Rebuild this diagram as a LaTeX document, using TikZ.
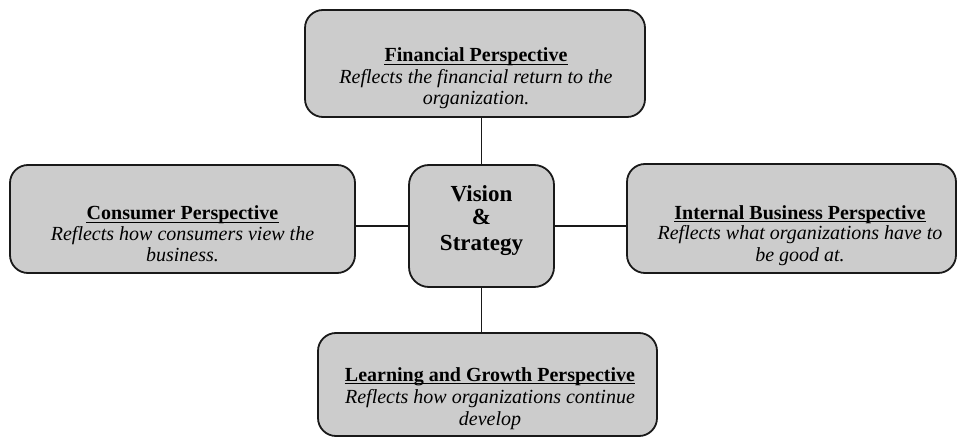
\documentclass[tikz,border=0pt]{standalone}
\usepackage{fontspec}
\setmainfont{Liberation Serif}
\definecolor{boxfill}{RGB}{204,204,204}
\definecolor{edge}{RGB}{25,25,25}
\tikzset{
 pbox/.style={draw=edge, line width=1.8pt, fill=boxfill, rounded corners=18pt, inner sep=0pt, outer sep=0pt},
 cbox/.style={pbox, rounded corners=20pt},
 ttl/.style={font=\fontsize{20}{22}\selectfont\bfseries, anchor=base, inner sep=0pt},
 txt/.style={font=\fontsize{20}{22}\selectfont\itshape, anchor=base, inner sep=0pt},
 ctxt/.style={font=\fontsize{23}{26}\selectfont\bfseries, anchor=base, inner sep=0pt},
 link/.style={draw=edge, line width=1.4pt},
 uline/.style={draw=black, line width=1.1pt},
}
\begin{document}
\begin{tikzpicture}[x=1pt,y=-1pt]
\useasboundingbox (0,0) rectangle (957,438);
% boxes
\node[pbox, minimum width=340pt, minimum height=107pt] (fin) at (475,63.5) {};
\node[pbox, minimum width=345pt, minimum height=108pt] (con) at (182.5,219) {};
\node[pbox, minimum width=329pt, minimum height=109pt] (int) at (791.5,218.5) {};
\node[pbox, minimum width=339pt, minimum height=103pt] (lrn) at (487.5,384.5) {};
\node[cbox, minimum width=145pt, minimum height=122pt] (ctr) at (481.5,226) {};
% connectors
\draw[link] (ctr.north) -- (ctr.north |- fin.south);
\draw[link] (ctr.west) -- (ctr.west -| con.east);
\draw[link] (ctr.east) -- (ctr.east -| int.west);
\draw[link] (ctr.south) -- (ctr.south |- lrn.north);
% financial
\node[ttl] (fa) at (476,62) {Financial Perspective};
\node[txt] (fb) at (476,84) {Reflects the financial return to the};
\node[txt] (fc) at (476,105) {organization.};
% consumer
\node[ttl] (ca) at (182.5,220) {Consumer Perspective};
\node[txt] (cb) at (182.5,240.5) {Reflects how consumers view the};
\node[txt] (cc) at (182.5,261) {business.};
% internal
\node[ttl] (ia) at (800,219) {Internal Business Perspective};
\node[txt] (ib) at (800,240) {Reflects what organizations have to};
\node[txt] (ic) at (800,261) {be good at.};
% learning
\node[ttl] (la) at (490,381) {Learning and Growth Perspective};
\node[txt] (lb) at (490,403) {Reflects how organizations continue};
\node[txt] (lc) at (490,425) {develop};
% center
\node[ctxt] (va) at (481.5,202) {Vision};
\node[ctxt] (vb) at (481.5,225) {\&};
\node[ctxt] (vc) at (481.5,251) {Strategy};
% underlines
\foreach \n in {fa,ca,ia,la}{
  \draw[uline] ([yshift=-2.5pt]\n.base west) -- ([yshift=-2.5pt]\n.base east);
}
\end{tikzpicture}
\end{document}
